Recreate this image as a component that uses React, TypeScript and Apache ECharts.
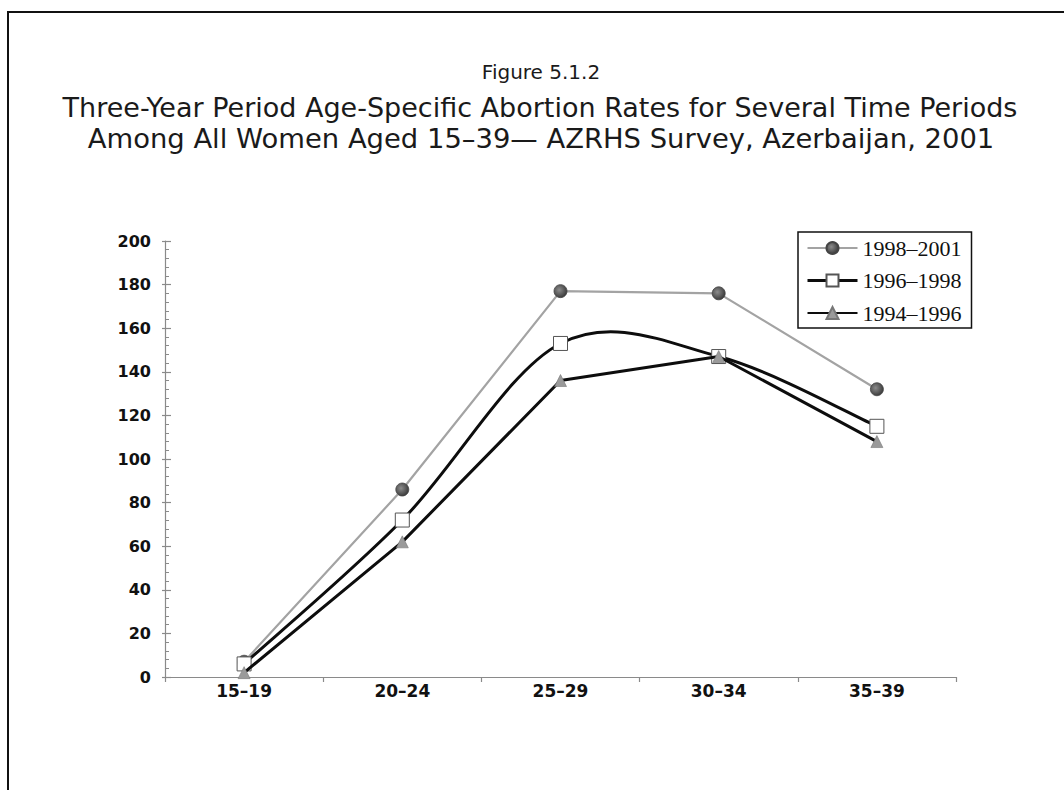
import { useEffect, useRef } from "react";
import * as echarts from "echarts";

// Age groups on the category axis
const ageGroups = ["15–19", "20–24", "25–29", "30–34", "35–39"];

// Abortion rates per 1000 women, by three-year period
const rates1998to2001 = [7, 86, 177, 176, 132];
const rates1996to1998 = [6, 72, 153, 147, 115];
const rates1994to1996 = [2, 62, 136, 147, 108];

const periodNames = ["1998–2001", "1996–1998", "1994–1996"];

// Value axis range
const yMin = 0;
const yMax = 200;
const yStep = 20;

const titleLines = [
  "Figure 5.1.2",
  "Three-Year Period Age-Specific Abortion Rates for Several Time Periods",
  "Among All Women Aged 15–39— AZRHS Survey, Azerbaijan, 2001",
];

const SANS = "'DejaVu Sans', Verdana, sans-serif";
const SERIF = "'Liberation Serif', 'Times New Roman', serif";

const INK = "#0d0d0d";

export default function App() {
  const ref = useRef<HTMLDivElement>(null);

  useEffect(() => {
    if (!ref.current) return;
    const chart = echarts.init(ref.current, undefined, { renderer: "svg" });

    const axisGray = "#8a8a8a";

    // Catmull-Rom style smoothing (spreadsheet "smoothed line"), one bezier per segment
    const smoothSegment = (values: number[], color: string, width: number) =>
      (params: any, api: any) => {
        const i = params.dataIndex;
        if (i >= values.length - 1) return { type: "group", children: [] };
        const pts = values.map((v, k) => api.coord([k, v]));
        const p0 = pts[Math.max(i - 1, 0)];
        const p1 = pts[i];
        const p2 = pts[i + 1];
        const p3 = pts[Math.min(i + 2, pts.length - 1)];
        const t = 1 / 6;
        return {
          type: "bezierCurve",
          shape: {
            x1: p1[0],
            y1: p1[1],
            x2: p2[0],
            y2: p2[1],
            cpx1: p1[0] + (p2[0] - p0[0]) * t,
            cpy1: p1[1] + (p2[1] - p0[1]) * t,
            cpx2: p2[0] - (p3[0] - p1[0]) * t,
            cpy2: p2[1] - (p3[1] - p1[1]) * t,
          },
          style: { stroke: color, lineWidth: width, fill: null, lineCap: "round" },
        };
      };

    const titleStyle = (size: number) => ({
      fontFamily: SANS,
      fontSize: size,
      fontWeight: "normal",
      color: "#1a1a1a",
      lineHeight: 30,
    });

    chart.setOption({
      animation: false,
      backgroundColor: "#ffffff",
      title: [
        { text: titleLines[0], left: 541, top: 57, textAlign: "center", padding: 0, textStyle: titleStyle(20) },
        { text: titleLines[1], left: 540, top: 92, textAlign: "center", padding: 0, textStyle: titleStyle(27) },
        { text: titleLines[2], left: 541, top: 123, textAlign: "center", padding: 0, textStyle: titleStyle(27.4) },
      ],
      legend: {
        orient: "vertical",
        left: 798,
        top: 232,
        padding: [4, 10, 3, 8],
        itemWidth: 50,
        itemHeight: 15,
        itemGap: 8.5,
        borderColor: "#111",
        borderWidth: 1.5,
        data: [
          { name: periodNames[0] },
          { name: periodNames[1], lineStyle: { color: INK, width: 3, opacity: 1 } },
          { name: periodNames[2] },
        ],
        textStyle: {
          fontFamily: SERIF,
          fontSize: 22,
          lineHeight: 24,
          color: "#111",
        },
      },
      grid: {
        left: 165,
        right: 108,
        top: 241,
        bottom: 113,
        containLabel: false,
      },
      xAxis: {
        type: "category",
        data: ageGroups,
        boundaryGap: true,
        axisLine: { show: true, lineStyle: { color: axisGray, width: 1.2 } },
        axisTick: {
          show: true,
          inside: false,
          length: 5,
          lineStyle: { color: axisGray, width: 1.2 },
        },
        axisLabel: {
          margin: 5,
          fontFamily: SANS,
          fontSize: 17,
          fontWeight: "bold",
          color: "#111",
        },
        splitLine: { show: false },
      },
      yAxis: [
        {
          type: "value",
          min: yMin,
          max: yMax,
          interval: yStep,
          axisLine: { show: true, lineStyle: { color: axisGray, width: 1.2 } },
          axisTick: {
            show: true,
            inside: true,
            length: 6,
            lineStyle: { color: axisGray, width: 1.2 },
          },
          minorTick: {
            show: true,
            splitNumber: 5,
            length: 4,
            lineStyle: { color: axisGray, width: 1 },
          },
          axisLabel: {
            margin: 14,
            fontFamily: SANS,
            fontSize: 16,
            fontWeight: "bold",
            color: "#111",
          },
          splitLine: { show: false },
        },
        {
          // short outer stubs of the major ticks
          type: "value",
          min: yMin,
          max: yMax,
          interval: yStep,
          position: "left",
          axisLine: { show: false },
          axisTick: {
            show: true,
            inside: false,
            length: 3,
            lineStyle: { color: axisGray, width: 1.2 },
          },
          axisLabel: { show: false },
          splitLine: { show: false },
        },
      ],
      series: [
        {
          name: periodNames[0],
          type: "line",
          yAxisIndex: 0,
          data: rates1998to2001,
          symbol: "circle",
          symbolSize: 13,
          showSymbol: true,
          lineStyle: { color: "#a3a3a3", width: 2.2 },
          itemStyle: {
            color: {
              type: "radial",
              x: 0.4,
              y: 0.4,
              r: 0.6,
              colorStops: [
                { offset: 0, color: "#8c8c8c" },
                { offset: 1, color: "#3d3d3d" },
              ],
            },
            borderColor: "#444",
            borderWidth: 0.8,
          },
          z: 2,
        },
        {
          // smoothed curve of the 1996–1998 period
          type: "custom",
          yAxisIndex: 0,
          silent: true,
          data: rates1996to1998.map((v, k) => [k, v]),
          encode: { x: 0, y: 1 },
          renderItem: smoothSegment(rates1996to1998, INK, 3),
          z: 3,
        },
        {
          // markers of the 1996–1998 period
          name: periodNames[1],
          type: "line",
          yAxisIndex: 0,
          data: rates1996to1998,
          symbol: "rect",
          symbolSize: 14,
          showSymbol: true,
          lineStyle: { color: INK, width: 0 },
          itemStyle: {
            color: "#ffffff",
            borderColor: "#555",
            borderWidth: 1,
          },
          z: 4,
        },
        {
          name: periodNames[2],
          type: "line",
          yAxisIndex: 0,
          data: rates1994to1996,
          symbol: "triangle",
          symbolSize: 12,
          showSymbol: true,
          lineStyle: { color: INK, width: 3 },
          itemStyle: {
            color: "#9a9a9a",
            borderColor: "#777",
            borderWidth: 0.6,
          },
          z: 5,
        },
      ],
      graphic: [
        {
          type: "polyline",
          silent: true,
          shape: {
            points: [
              [8, 790],
              [8, 12],
              [1064, 12],
            ],
          },
          style: { stroke: "#111", lineWidth: 2, fill: "none" },
        },
      ],
    });

    return () => {
      chart.dispose();
    };
  }, []);

  return (
    <div
      ref={ref}
      style={{
        position: "fixed",
        left: 0,
        top: 0,
        width: 1064,
        height: 790,
        background: "#fff",
      }}
    />
  );
}
